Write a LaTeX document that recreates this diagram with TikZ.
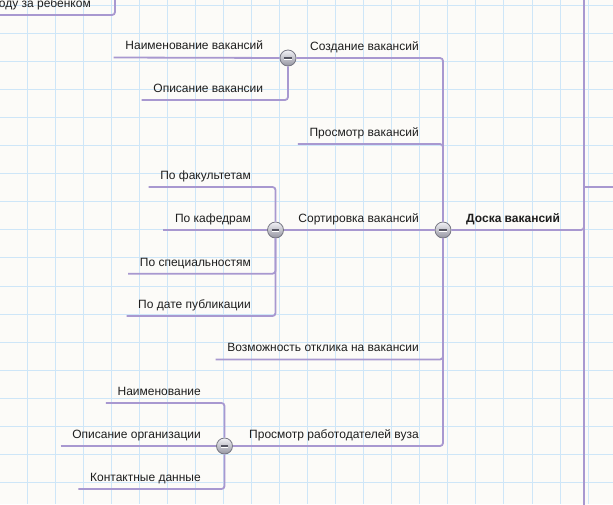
\documentclass[tikz,border=0pt]{standalone}
\usepackage{fontspec}
\setmainfont{Liberation Sans}
\definecolor{bgc}{RGB}{252,251,248}
\definecolor{gridc}{RGB}{206,230,248}
\definecolor{linec}{RGB}{168,152,208}
\definecolor{txt}{RGB}{30,30,30}
\definecolor{btntop}{RGB}{242,242,246}
\definecolor{btnbot}{RGB}{148,148,160}
\definecolor{btnedge}{RGB}{118,118,130}
\definecolor{btnminus}{RGB}{85,85,98}
\begin{document}
\begin{tikzpicture}[x=1pt,y=-1pt,
  conn/.style={draw=linec, line width=1.8pt, rounded corners=3pt},
  leaf/.style={anchor=south east, inner xsep=11.5pt, inner ysep=7.5pt, text depth=0pt, font=\fontsize{12}{14}\selectfont, text=txt},
  rootlbl/.style={anchor=base west, inner sep=0pt, font=\fontsize{12}{14}\selectfont\bfseries, text=txt},
  gridline/.style={draw=gridc, line width=0.8pt},
  btn/.style={circle, minimum size=16pt, inner sep=0pt, draw=btnedge, line width=0.8pt,
    top color=btntop, bottom color=btnbot,
    path picture={
      \draw[line width=1.7pt, btnminus] ([xshift=-3.6pt]path picture bounding box.center) -- ([xshift=3.6pt]path picture bounding box.center);
      \draw[line width=0.6pt, white] ([xshift=-3.6pt,yshift=-1.4pt]path picture bounding box.center) -- ([xshift=3.6pt,yshift=-1.4pt]path picture bounding box.center);
    }}
]
\useasboundingbox (0,0) rectangle (613,504);
\clip (0,0) rectangle (613,504);
\fill[bgc] (0,0) rectangle (613,504);
\foreach \i in {0,...,21} \draw[gridline] ({27+28.05*\i},0) -- ++(0,504);
\foreach \j in {0,...,17} \draw[gridline] (0,{4.9+28.1*\j}) -- ++(613,0);

% coordinates
\coordinate (rtop) at (584,-10);
\coordinate (rbot) at (584,515);
\coordinate (rbr) at (620,187);
\coordinate (tcor) at (115,-10);

% buttons
\node[btn] (croot) at (443,230) {};
\node[btn] (cSoz) at (288,58) {};
\node[btn] (cSrt) at (275.5,230) {};
\node[btn] (cPrb) at (224.5,446) {};

% labels
\node[leaf] (topn) at (102.5,15) {оду за ребенком};
\node[rootlbl] (root) at (466,222) {Доска вакансий};
\node[leaf] (soz) at (430.5,58) {Создание вакансий};
\node[leaf] (prv) at (430.5,144) {Просмотр вакансий};
\node[leaf] (srt) at (430.5,230) {Сортировка вакансий};
\node[leaf] (vo) at (430.5,359.5) {Возможность отклика на вакансии};
\node[leaf] (prb) at (430.5,446) {Просмотр работодателей вуза};
\node[leaf] (nv) at (274.8,57.5) {Наименование вакансий};
\node[leaf] (ov) at (274.8,100) {Описание вакансии};
\node[leaf] (pf) at (262.5,187) {По факультетам};
\node[leaf] (pk) at (262.5,230) {По кафедрам};
\node[leaf] (ps) at (262.5,273.7) {По специальностям};
\node[leaf] (pd) at (262.5,316) {По дате публикации};
\node[leaf] (nm) at (212.5,403) {Наименование};
\node[leaf] (oo) at (212.5,446) {Описание организации};
\node[leaf] (kd) at (212.5,489) {Контактные данные};

% connectors
\draw[conn] (topn.south west) -- (topn.south west -| tcor) -- (tcor);
\draw[conn] (rtop) -- (rbot);
\draw[conn] (rbr) -- (rbr -| rtop);
\draw[conn] (croot) -- (croot -| rtop) -- (rtop);

\draw[conn] (cSoz) -- (cSoz -| croot) -- (croot);
\draw[conn] (prv.south west) -- (prv.south west -| croot) -- (croot);
\draw[conn] (cSrt) -- (croot);
\draw[conn] (vo.south west) -- (vo.south west -| croot) -- (croot);
\draw[conn] (cPrb) -- (cPrb -| croot) -- (croot);

\draw[conn] (nv.south west) -- (cSoz);
\draw[conn] (ov.south west) -- (ov.south west -| cSoz) -- (cSoz);

\draw[conn] (pf.south west) -- (pf.south west -| cSrt) -- (cSrt);
\draw[conn] (pk.south west) -- (cSrt);
\draw[conn] (ps.south west) -- (ps.south west -| cSrt) -- (cSrt);
\draw[conn] (pd.south west) -- (pd.south west -| cSrt) -- (cSrt);

\draw[conn] (nm.south west) -- (nm.south west -| cPrb) -- (cPrb);
\draw[conn] (oo.south west) -- (cPrb);
\draw[conn] (kd.south west) -- (kd.south west -| cPrb) -- (cPrb);
\end{tikzpicture}
\end{document}
